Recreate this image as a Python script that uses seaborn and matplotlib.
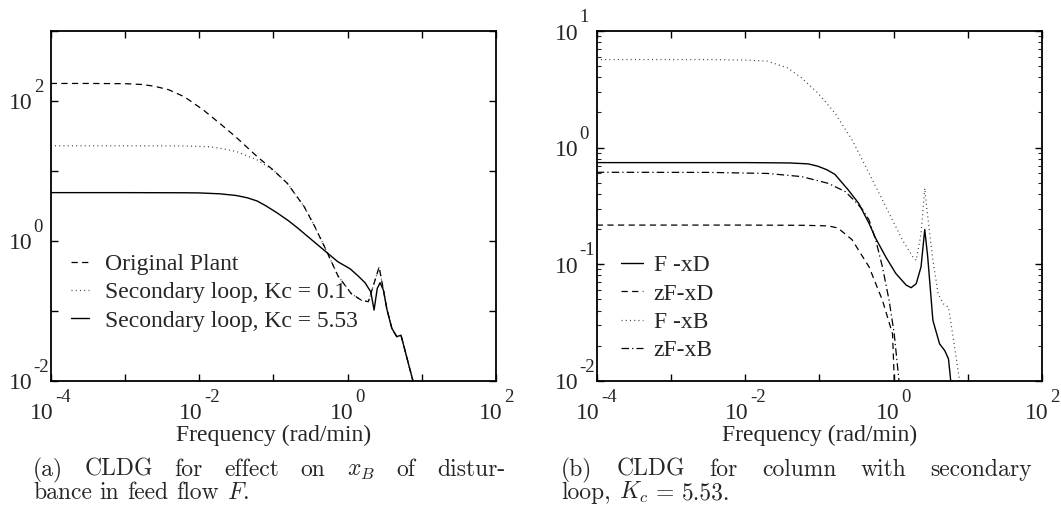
import numpy as np
import pandas as pd
import matplotlib
matplotlib.use("Agg")
import matplotlib.pyplot as plt
import seaborn as sns
from matplotlib.ticker import LogLocator, NullLocator, NullFormatter
from matplotlib.transforms import offset_copy

# ---------------- panel (a): CLDG for x_B, disturbance in feed flow F ----------------
# values stored as log10(frequency [rad/min]) and log10(|CLDG|)
orig_logw = [-4.0, -3.5, -3.0, -2.77, -2.6, -2.41, -2.2, -1.95, -1.7, -1.5, -1.22, -1.0, -0.81,
             -0.586, -0.45, -0.31, -0.13, 0.05, 0.19, 0.28, 0.425, 0.483, 0.53, 0.596, 0.663, 0.72, 0.88]
orig_logm = [2.25, 2.25, 2.247, 2.235, 2.21, 2.16, 2.06, 1.876, 1.66, 1.48, 1.206, 1.01, 0.82,
             0.49, 0.22, -0.086, -0.50, -0.756, -0.852, -0.87, -0.376, -0.70, -0.98, -1.25, -1.37, -1.35, -2.0]

kc01_logw = [-4.0, -3.0, -2.2, -1.86, -1.70, -1.50, -1.22, -1.0, -0.81,
             -0.586, -0.45, -0.31, -0.13, 0.05, 0.19, 0.28, 0.425, 0.483, 0.53, 0.596, 0.663, 0.72, 0.88]
kc01_logm = [1.359, 1.359, 1.356, 1.345, 1.32, 1.278, 1.158, 1.01, 0.82,
             0.49, 0.22, -0.086, -0.50, -0.756, -0.852, -0.87, -0.376, -0.70, -0.98, -1.25, -1.37, -1.35, -2.0]

kc553_logw = [-4.0, -3.0, -2.2, -2.0, -1.72, -1.5, -1.35, -1.22, -1.1, -0.95, -0.8, -0.68, -0.40,
              -0.13, 0.034, 0.14, 0.236, 0.313, 0.357, 0.40, 0.438, 0.483, 0.53, 0.596, 0.663, 0.72, 0.88]
kc553_logm = [0.689, 0.689, 0.687, 0.685, 0.672, 0.648, 0.615, 0.57, 0.50, 0.40, 0.29, 0.19, -0.06,
              -0.30, -0.40, -0.50, -0.60, -0.73, -0.99, -0.68, -0.60, -0.704, -0.98, -1.25, -1.37, -1.35, -2.0]

labels_a = ["Original Plant", "Secondary loop, Kc = 0.1", "Secondary loop, Kc = 5.53"]

# ---------------- panel (b): CLDG with secondary loop, Kc = 5.53 ----------------
fxd_logw = [-4.0, -2.0, -1.40, -1.15, -1.02, -0.90, -0.79, -0.61, -0.47, -0.33, -0.24, -0.105,
            0.03, 0.17, 0.237, 0.305, 0.37, 0.42, 0.46, 0.53, 0.62, 0.69, 0.74, 0.77]
fxd_logm = [-0.129, -0.129, -0.132, -0.14, -0.16, -0.19, -0.23, -0.364, -0.479, -0.651, -0.78, -0.938,
            -1.08, -1.18, -1.202, -1.168, -1.024, -0.703, -0.938, -1.483, -1.684, -1.742, -1.813, -2.0]

zfxd_logw = [-4.0, -2.0, -1.2, -0.88, -0.75, -0.56, -0.33, -0.15, -0.014, 0.01]
zfxd_logm = [-0.665, -0.665, -0.667, -0.672, -0.69, -0.79, -1.024, -1.31, -1.598, -2.0]

fxb_logw = [-4.0, -2.5, -1.97, -1.70, -1.43, -1.24, -1.02, -0.79, -0.56, -0.33, -0.105, 0.12,
            0.26, 0.305, 0.37, 0.42, 0.46, 0.53, 0.60, 0.67, 0.74, 0.81, 0.89]
fxb_logm = [0.755, 0.755, 0.75, 0.741, 0.684, 0.598, 0.468, 0.296, 0.067, -0.22, -0.507, -0.794,
            -0.938, -0.967, -0.74, -0.35, -0.59, -0.967, -1.254, -1.34, -1.37, -1.66, -2.0]

zfxb_logw = [-4.0, -2.5, -1.70, -1.24, -0.88, -0.65, -0.515, -0.42, -0.33, -0.24, -0.15, -0.06, 0.009, 0.073]
zfxb_logm = [-0.212, -0.213, -0.222, -0.249, -0.307, -0.378, -0.464, -0.53, -0.622, -0.795, -1.024,
             -1.311, -1.6, -2.0]

labels_b = ["F -xD", "zF-xD", "F -xB", "zF-xB"]

xlabel = "Frequency (rad/min)"
xtick_exponents = [-4, -2, 0, 2]
ytick_exponents_a = [-2, 0, 2]
ytick_exponents_b = [-2, -1, 0, 1]
caption_a = [["(a)", "CLDG", "for", "effect", "on", "$x_B$", "of", "distur-"],
             ["bance", "in", "feed", "flow", "$F$."]]
caption_b = [["(b)", "CLDG", "for", "column", "with", "secondary"],
             ["loop,", "$K_c$", "=", "5.53."]]

# ---------------- styling ----------------
sns.set_style("ticks")
plt.rcParams["font.family"] = ["Liberation Serif", "DejaVu Serif"]
plt.rcParams["axes.linewidth"] = 1.3

W, H = 1061, 526
fig = plt.figure(figsize=(W / 100, H / 100), dpi=100)
fig.patch.set_facecolor("white")
renderer = fig.canvas.get_renderer()


def px_axes(x0, y0, x1, y1):
    return fig.add_axes([x0 / W, (H - y1) / H, (x1 - x0) / W, (y1 - y0) / H])


ax_a = px_axes(50.7, 31, 496, 380.7)
ax_b = px_axes(596.7, 31, 1042, 380.7)


def draw(ax, logw, logm, name, **kw):
    df = pd.DataFrame({"w": 10.0 ** np.asarray(logw), "mag": 10.0 ** np.asarray(logm)})
    sns.lineplot(data=df, x="w", y="mag", ax=ax, estimator=None, sort=False,
                 color="black", label=name, **kw)


dash = dict(linestyle=(0, (5.0, 3.5)), linewidth=0.9)
dots = dict(linestyle=(0, (0.8, 2.6)), linewidth=0.9, alpha=0.75)
solid = dict(linestyle="-", linewidth=1.0)
dashdot = dict(linestyle=(0, (6.0, 2.5, 1.0, 2.5)), linewidth=0.9)

draw(ax_a, orig_logw, orig_logm, labels_a[0], **dash)
draw(ax_a, kc01_logw, kc01_logm, labels_a[1], **dots)
draw(ax_a, kc553_logw, kc553_logm, labels_a[2], **solid)

draw(ax_b, fxd_logw, fxd_logm, labels_b[0], **solid)
draw(ax_b, zfxd_logw, zfxd_logm, labels_b[1], **dash)
draw(ax_b, fxb_logw, fxb_logm, labels_b[2], **dots)
draw(ax_b, zfxb_logw, zfxb_logm, labels_b[3], **dashdot)

BASE_SIZE, EXP_SIZE = 17, 13.5


def text_width(s, size):
    t = fig.text(0, 0, s, fontsize=size)
    w = t.get_window_extent(renderer).width
    t.remove()
    return w


def power_label(ax, exponent, axis):
    """'10' with a raised exponent, anchored at the tick position (offsets in pixels)."""
    value = 10.0 ** exponent
    exp_str = str(exponent)
    if axis == "x":
        wb, we, gap = text_width("10", BASE_SIZE), text_width(exp_str, EXP_SIZE), 2.0
        shift = (wb - we - gap) / 2
        tr = ax.get_xaxis_transform()
        pos = (value, 0)
        base_off, exp_off = (shift, -38.5), (shift + gap, -21.5)
    else:
        tr = ax.get_yaxis_transform()
        pos = (0, value)
        base_off, exp_off = (-18.5, -8.5), (-17.0, 8.7)
    ax.text(*pos, "10", fontsize=BASE_SIZE, ha="right", va="baseline", clip_on=False,
            transform=offset_copy(tr, fig=fig, x=base_off[0], y=base_off[1], units="dots"))
    ax.text(*pos, exp_str, fontsize=EXP_SIZE, ha="left", va="baseline", clip_on=False,
            transform=offset_copy(tr, fig=fig, x=exp_off[0], y=exp_off[1], units="dots"))


for ax, ylim, yexps, yminor in ((ax_a, (1e-2, 1e3), ytick_exponents_a, False),
                                (ax_b, (1e-2, 1e1), ytick_exponents_b, True)):
    ax.set_xscale("log")
    ax.set_yscale("log")
    ax.set_xlim(1e-4, 1e2)
    ax.set_ylim(*ylim)
    ax.xaxis.set_major_locator(LogLocator(base=10, numticks=20))
    ax.xaxis.set_minor_locator(NullLocator())
    ax.yaxis.set_major_locator(LogLocator(base=10, numticks=20))
    if yminor:
        ax.yaxis.set_minor_locator(LogLocator(base=10, subs=np.arange(2, 10), numticks=20))
    else:
        ax.yaxis.set_minor_locator(NullLocator())
    ax.yaxis.set_minor_formatter(NullFormatter())
    ax.tick_params(which="major", direction="in", length=5, width=1.0, top=True, right=True,
                   labelbottom=False, labelleft=False, colors="black")
    ax.tick_params(which="minor", direction="in", length=3, width=0.8, top=False, right=True, left=True)
    for e in xtick_exponents:
        power_label(ax, e, "x")
    for e in yexps:
        power_label(ax, e, "y")
    ax.set_xlabel(xlabel, fontsize=17)
    ax.xaxis.set_label_coords(0.5, -0.1267)
    ax.set_ylabel("")
    for s in ax.spines.values():
        s.set_visible(True)
        s.set_color("black")
    ax.set_facecolor("white")

ax_a.legend(loc="upper left", bbox_to_anchor=(0.0456, 0.364), frameon=False, fontsize=17,
            handlelength=0.75, handletextpad=0.7, labelspacing=0.29, borderpad=0, borderaxespad=0)
ax_b.legend(loc="upper left", bbox_to_anchor=(0.054, 0.360), frameon=False, fontsize=17,
            handlelength=0.93, handletextpad=0.46, labelspacing=0.29, borderpad=0, borderaxespad=0)

# ---------------- captions (justified first line, set in Computer Modern) ----------------
CAP_SIZE = 17


def caption_line(words, x0, x1, y_base, justify):
    items = [fig.text(0, (H - y_base) / H, w, fontsize=CAP_SIZE, family="cmr10",
                      math_fontfamily="cm", va="baseline", ha="left") for w in words]
    widths = [t.get_window_extent(renderer).width for t in items]
    probe = fig.text(0, 0, "a a", fontsize=CAP_SIZE, family="cmr10")
    probe2 = fig.text(0, 0, "aa", fontsize=CAP_SIZE, family="cmr10")
    space = probe.get_window_extent(renderer).width - probe2.get_window_extent(renderer).width
    probe.remove()
    probe2.remove()
    gap = (x1 - x0 - sum(widths)) / (len(items) - 1) if justify else space
    x = x0
    for t, wd in zip(items, widths):
        t.set_x(x / W)
        x += wd + gap


caption_line(caption_a[0], 33, 505, 476, True)
caption_line(caption_a[1], 33, 505, 499, False)
caption_line(caption_b[0], 561, 1032, 476, True)
caption_line(caption_b[1], 561, 1032, 499, False)

fig.savefig("out.png", dpi=100, facecolor="white")
